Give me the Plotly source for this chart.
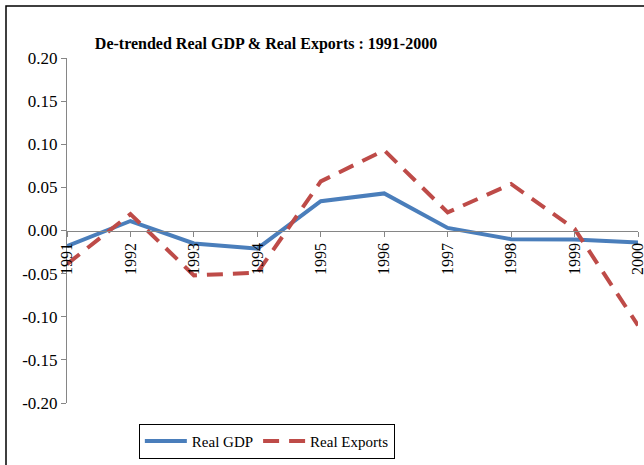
import plotly.graph_objects as go

years = ["1991", "1992", "1993", "1994", "1995", "1996", "1997", "1998", "1999", "2000"]
real_gdp = [-0.018, 0.011, -0.015, -0.021, 0.034, 0.043, 0.003, -0.010, -0.0105, -0.014]
real_exports = [-0.039, 0.019, -0.052, -0.049, 0.057, 0.093, 0.021, 0.054, 0.002, -0.110]
y_ticks = [-0.20, -0.15, -0.10, -0.05, 0.00, 0.05, 0.10, 0.15, 0.20]
y_tick_labels = ["-0.20", "-0.15", "-0.10", "-0.05", "0.00", "0.05", "0.10", "0.15", "0.20"]

FONT = "Liberation Serif"

fig = go.Figure()
fig.add_trace(go.Scatter(
    x=years, y=real_gdp, name="Real GDP", mode="lines",
    line=dict(color="#4a7ebb", width=4),
))
fig.add_trace(go.Scatter(
    x=years, y=real_exports, name="Real Exports", mode="lines",
    line=dict(color="#be4b48", width=4, dash="16px,10px"),
))

fig.update_layout(
    width=644, height=465,
    margin=dict(l=67, r=6, t=58, b=62),
    paper_bgcolor="white", plot_bgcolor="white",
    font=dict(family=FONT, size=16, color="black"),
    title=dict(
        text="<b>De-trended Real GDP & Real Exports : 1991-2000</b>",
        x=266 / 644, xanchor="center", y=1 - 43 / 465, yanchor="middle",
        font=dict(family=FONT, size=16, color="black"),
    ),
    showlegend=True,
    legend=dict(
        orientation="h", x=0.35, xanchor="center", y=-0.06, yanchor="top",
        bordercolor="black", borderwidth=1, bgcolor="white",
        font=dict(family=FONT, size=15, color="black"),
        itemwidth=42,
    ),
    xaxis=dict(
        type="category", range=[0, 9], automargin=False,
        anchor="free", position=0.5,
        showline=True, linecolor="#868686", linewidth=1,
        ticks="outside", ticklen=5, tickcolor="#868686",
        tickangle=-90, showgrid=False, zeroline=False,
        tickfont=dict(family=FONT, size=16, color="black"),
    ),
    yaxis=dict(
        range=[-0.2, 0.2], tickvals=y_ticks, ticktext=y_tick_labels,
        automargin=False,
        showline=True, linecolor="#868686", linewidth=1,
        ticks="outside", ticklen=5, tickcolor="#868686",
        showgrid=False, zeroline=False,
        tickfont=dict(family=FONT, size=17, color="black"),
    ),
    shapes=[dict(
        type="rect", xref="paper", yref="paper",
        x0=(6 - 67) / 571, x1=1.2, y0=-0.4, y1=1 + (58 - 6) / 345,
        line=dict(color="black", width=1.5), layer="below",
    )],
)

fig.write_html("out.html", config={"displayModeBar": False},
               post_script="document.body.style.margin='0';")
